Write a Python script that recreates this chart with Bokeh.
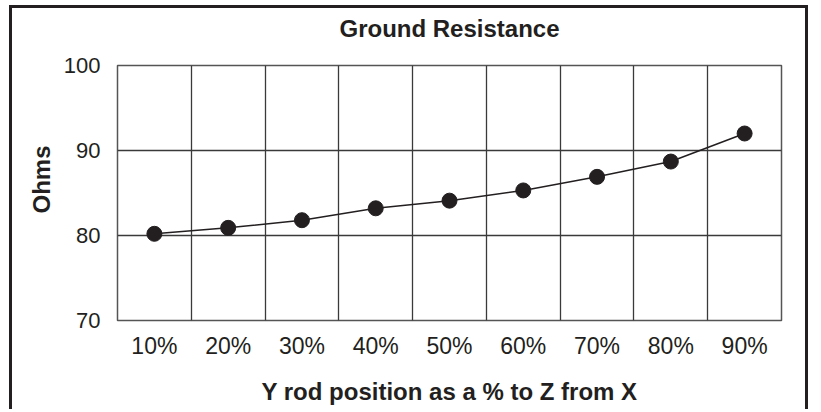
from bokeh.plotting import figure
from bokeh.models import FixedTicker, Range1d, Title, LinearAxis
from bokeh.embed import file_html
from bokeh.resources import INLINE

positions = ["10%", "20%", "30%", "40%", "50%", "60%", "70%", "80%", "90%"]
ohms = [80.2, 80.9, 81.8, 83.2, 84.1, 85.3, 86.9, 88.7, 92.0]
y_ticks = [70, 80, 90, 100]
y_grid = [80, 90]

INK = "#231f20"
FONT = "Liberation Sans"

x_idx = list(range(1, len(positions) + 1))
x_bounds = [i + 0.5 for i in x_idx[:-1]]

xr = Range1d(0.5, len(positions) + 0.5)
yr = Range1d(y_ticks[0], y_ticks[-1])

p = figure(width=799, height=404, output_backend="svg", toolbar_location=None,
           x_range=xr, y_range=yr,
           min_border_left=105, min_border_right=30, min_border_top=57, min_border_bottom=92)
p.styles = {"border-left": f"3px solid {INK}", "border-right": f"3px solid {INK}",
            "border-top": f"3px solid {INK}", "margin-left": "9px", "margin-top": "5px"}

bottom_axis = p.below[0]
left_axis = p.left[0]

for ax in (bottom_axis, left_axis):
    ax.axis_line_color = None
    ax.major_tick_line_color = None
    ax.minor_tick_line_color = None
    ax.major_tick_out = 0
    ax.major_tick_in = 0
    ax.major_label_text_font = FONT
    ax.major_label_text_color = INK
    ax.axis_label_text_font = FONT
    ax.axis_label_text_font_size = "24px"
    ax.axis_label_text_font_style = "bold"
    ax.axis_label_text_color = INK

bottom_axis.ticker = FixedTicker(ticks=x_idx)
bottom_axis.major_label_overrides = {i: lab for i, lab in zip(x_idx, positions)}
bottom_axis.major_label_text_font_size = "23px"
bottom_axis.major_label_standoff = 12
bottom_axis.axis_label = "Y rod position as a % to Z from X"
bottom_axis.axis_label_standoff = 16

left_axis.ticker = FixedTicker(ticks=y_ticks)
left_axis.major_label_text_font_size = "22px"
left_axis.major_label_standoff = 17

# chart title drawn as the label of a tick-less axis above the frame
top_axis = LinearAxis(ticker=FixedTicker(ticks=[]), axis_label="Ground Resistance",
                      axis_line_color=None, major_tick_line_color=None,
                      minor_tick_line_color=None, major_tick_out=0, major_tick_in=0,
                      major_label_text_font_size="0px",
                      axis_label_standoff=24, axis_label_text_font=FONT,
                      axis_label_text_font_size="24px", axis_label_text_font_style="bold",
                      axis_label_text_color=INK)
p.add_layout(top_axis, "above")

p.add_layout(Title(text="Ohms", align="left", offset=107, standoff=12,
                   text_font=FONT, text_font_size="24px", text_font_style="bold",
                   text_color=INK), "left")

p.outline_line_color = "#555555"
p.outline_line_width = 1.5

p.xgrid.ticker = FixedTicker(ticks=x_bounds)
p.ygrid.ticker = FixedTicker(ticks=y_grid)
for g in (p.xgrid[0], p.ygrid[0]):
    g.grid_line_color = "#3a3a3a"
    g.grid_line_width = 1.3

p.line(x_idx, ohms, line_color=INK, line_width=1.5)
p.scatter(x_idx, ohms, size=15, color=INK)

open("out.html", "w").write(file_html(p, INLINE))
